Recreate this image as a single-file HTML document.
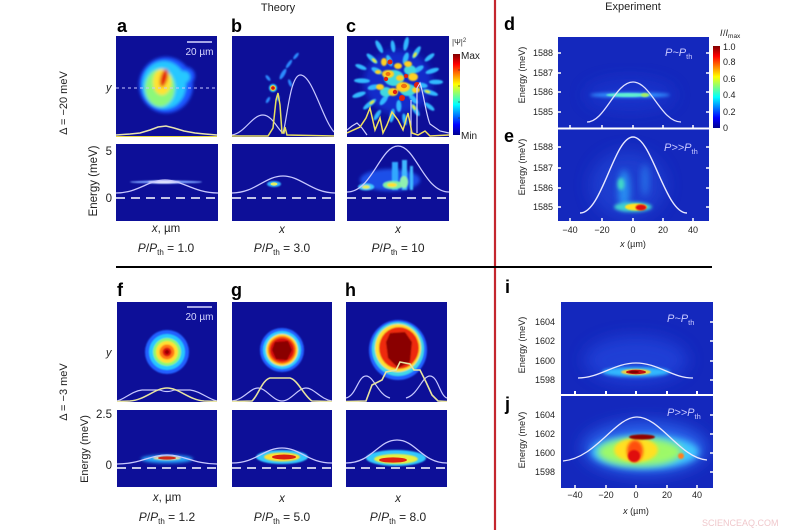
<!DOCTYPE html>
<html><head><meta charset="utf-8"><style>
html,body{margin:0;padding:0;background:#fff;}
svg{display:block;font-family:"Liberation Sans",sans-serif;}
</style></head><body>
<svg width="800" height="530" viewBox="0 0 800 530" xmlns="http://www.w3.org/2000/svg">
<defs>
<filter id="b1" x="-50%" y="-50%" width="200%" height="200%"><feGaussianBlur stdDeviation="0.8"/></filter>
<filter id="b2" x="-50%" y="-50%" width="200%" height="200%"><feGaussianBlur stdDeviation="1.6"/></filter>
<filter id="b4" x="-50%" y="-50%" width="200%" height="200%"><feGaussianBlur stdDeviation="3.5"/></filter>
<filter id="b8" x="-50%" y="-50%" width="200%" height="200%"><feGaussianBlur stdDeviation="8"/></filter>
<linearGradient id="jet" x1="0" y1="1" x2="0" y2="0">
<stop offset="0" stop-color="#00008f"/><stop offset="0.125" stop-color="#0000ff"/><stop offset="0.375" stop-color="#00ffff"/><stop offset="0.625" stop-color="#ffff00"/><stop offset="0.875" stop-color="#ff0000"/><stop offset="1" stop-color="#800000"/>
</linearGradient>
<clipPath id="ca"><rect x="116" y="36" width="101" height="101"/></clipPath>
<clipPath id="cab"><rect x="116" y="144" width="102" height="77"/></clipPath>
<clipPath id="cb"><rect x="232" y="36" width="102" height="101"/></clipPath>
<clipPath id="cbb"><rect x="232" y="144" width="103" height="77"/></clipPath>
<clipPath id="cc"><rect x="347" y="36" width="102" height="101"/></clipPath>
<clipPath id="ccb"><rect x="347" y="144" width="102" height="77"/></clipPath>
<clipPath id="cd"><rect x="558" y="37" width="151" height="91"/></clipPath>
<clipPath id="ce"><rect x="558" y="129" width="151" height="92"/></clipPath>
<clipPath id="cf"><rect x="117" y="302" width="100" height="100"/></clipPath>
<clipPath id="cfb"><rect x="117" y="410" width="100" height="77"/></clipPath>
<clipPath id="cg"><rect x="232" y="302" width="100" height="100"/></clipPath>
<clipPath id="cgb"><rect x="232" y="410" width="100" height="77"/></clipPath>
<clipPath id="ch"><rect x="346" y="302" width="101" height="100"/></clipPath>
<clipPath id="chb"><rect x="346" y="410" width="101" height="77"/></clipPath>
<clipPath id="ci"><rect x="561" y="302" width="152" height="92"/></clipPath>
<clipPath id="cj"><rect x="561" y="396" width="152" height="92"/></clipPath>
</defs>

<!-- ============ separators ============ -->
<line x1="495" y1="0" x2="495" y2="530" stroke="#c4262e" stroke-width="2.2"/>
<line x1="116" y1="267" x2="712" y2="267" stroke="#000" stroke-width="2"/>

<!-- ============ headers ============ -->
<text x="278" y="11" font-size="11" text-anchor="middle" fill="#222">Theory</text>
<text x="633" y="10" font-size="11" text-anchor="middle" fill="#222">Experiment</text>

<g font-size="18" font-weight="bold" fill="#000">
<text x="117" y="32">a</text>
<text x="231" y="32">b</text>
<text x="346" y="32">c</text>
<text x="504" y="30">d</text>
<text x="504" y="142">e</text>
<text x="117" y="296">f</text>
<text x="231" y="296">g</text>
<text x="345" y="296">h</text>
<text x="505" y="293">i</text>
<text x="505" y="410">j</text>
</g>

<!-- rotated labels left -->
<text transform="translate(67,103) rotate(-90)" font-size="11" text-anchor="middle" fill="#222">Δ = −20 meV</text>
<text transform="translate(67,392) rotate(-90)" font-size="11" text-anchor="middle" fill="#222">Δ = −3 meV</text>
<text transform="translate(97,181) rotate(-90)" font-size="11.5" text-anchor="middle" fill="#222">Energy (meV)</text>
<text transform="translate(88,449) rotate(-90)" font-size="11" text-anchor="middle" fill="#222">Energy (meV)</text>
<g font-size="11" fill="#222" font-style="italic">
<text x="106" y="91">y</text>
<text x="106" y="356">y</text>
</g>
<g font-size="11.5" fill="#222" text-anchor="end">
<text x="112" y="155">5</text>
<text x="112" y="202">0</text>
<text x="112" y="418">2.5</text>
<text x="112" y="469">0</text>
</g>

<!-- ============ PANEL a top ============ -->
<rect x="116" y="36" width="101" height="101" fill="#0d0f98"/>
<g clip-path="url(#ca)">
<g filter="url(#b2)">
<ellipse cx="166" cy="85" rx="27" ry="28" fill="#1f55ff"/>
<circle cx="186" cy="76" r="9" fill="#1f55ff"/>
<ellipse cx="164" cy="85" rx="22" ry="24" fill="#28c8ff"/>
<circle cx="184" cy="77" r="6" fill="#28c8ff"/>
<ellipse cx="160" cy="88" rx="15" ry="19" fill="#8cf87a"/>
<ellipse cx="162" cy="82" rx="9" ry="13" fill="#ffe230"/>
<ellipse cx="164" cy="78" rx="3.5" ry="9" fill="#e42010" transform="rotate(15 164 78)"/>
</g>
<line x1="116" y1="88" x2="217" y2="88" stroke="#c8c8ff" stroke-width="1" stroke-dasharray="3 3"/>
<path d="M116,135 L130,134 L140,133 L150,130 L158,127 L166,126 L174,128 L184,131 L195,133 L205,134 L217,135" fill="none" stroke="#e8e4b0" stroke-width="1.5"/>
<line x1="116" y1="136.5" x2="217" y2="136.5" stroke="#e8d840" stroke-width="1"/>
<line x1="187" y1="42" x2="212" y2="42" stroke="#d8d8ff" stroke-width="1.5"/>
<text x="199.5" y="55" font-size="10" text-anchor="middle" fill="#d8d8ff">20 µm</text>
</g>

<!-- ============ PANEL a bottom ============ -->
<rect x="116" y="144" width="102" height="77" fill="#0d0f98"/>
<g clip-path="url(#cab)">
<ellipse cx="166" cy="182" rx="36" ry="1.5" fill="#7aa0ff" filter="url(#b1)"/>
<ellipse cx="164" cy="182" rx="16" ry="1.5" fill="#e8e8ff" filter="url(#b1)"/>
<path d="M116,193 C138,193 148,180 165,180 C182,180 194,193 218,193" fill="none" stroke="#c8c8ff" stroke-width="1.3"/>
<line x1="116" y1="198" x2="218" y2="198" stroke="#fff" stroke-width="1.5" stroke-dasharray="9 6"/>
</g>

<!-- ============ PANEL b top ============ -->
<rect x="232" y="36" width="102" height="101" fill="#0d0f98"/>
<g clip-path="url(#cb)">
<g filter="url(#b1)" fill="#2a8cff">
<ellipse cx="283" cy="74" rx="2" ry="6" transform="rotate(30 283 74)"/>
<ellipse cx="289" cy="64" rx="1.6" ry="5" transform="rotate(35 289 64)"/>
<ellipse cx="296" cy="56" rx="1.5" ry="4" transform="rotate(40 296 56)"/>
<ellipse cx="290" cy="83" rx="1.5" ry="4" transform="rotate(-20 290 83)"/>
<ellipse cx="268" cy="78" rx="1.5" ry="3.5" transform="rotate(-40 268 78)"/>
<ellipse cx="268" cy="100" rx="1.5" ry="3.5" transform="rotate(30 268 100)"/>
<ellipse cx="278" cy="98" rx="1.5" ry="3" />
</g>
<circle cx="273" cy="88" r="4" fill="#30d0ff" filter="url(#b1)"/>
<circle cx="273" cy="88" r="2.8" fill="#ffd020"/>
<circle cx="273" cy="88" r="1.8" fill="#d01010"/>
<path d="M232,135 C245,133 252,115 263,115 C272,115 278,130 283,133 C287,120 290,76 300,75 C312,74 322,118 334,132" fill="none" stroke="#c8c8ff" stroke-width="1.2"/>
<path d="M232,136 L268,136 L273,128 L276,100 L278,93 L280,105 L282,133 L284,133 L285,127 L287,135 L334,136" fill="none" stroke="#e8e060" stroke-width="1.5"/>
</g>

<!-- ============ PANEL b bottom ============ -->
<rect x="232" y="144" width="103" height="77" fill="#0d0f98"/>
<g clip-path="url(#cbb)">
<ellipse cx="274" cy="184" rx="7" ry="3" fill="#30b0ff" filter="url(#b1)"/>
<ellipse cx="274" cy="184" rx="3.5" ry="1.6" fill="#e8f060"/>
<path d="M232,193 C255,193 265,176 283,176 C301,176 312,193 335,193" fill="none" stroke="#c8c8ff" stroke-width="1.3"/>
<line x1="232" y1="198" x2="335" y2="198" stroke="#fff" stroke-width="1.5" stroke-dasharray="9 6"/>
</g>

<!-- ============ PANEL c top ============ -->
<rect x="347" y="36" width="102" height="101" fill="#0d0f98"/>
<g clip-path="url(#cc)">
<ellipse cx="398" cy="82" rx="34" ry="32" fill="#1838e0" filter="url(#b4)" opacity="0.7"/>
<g transform="translate(398,82)">
<g fill="#30b8ff" filter="url(#b1)">
<ellipse transform="rotate(0)" cx="38" cy="0" rx="7" ry="2.4"/>
<ellipse transform="rotate(18)" cx="34" cy="0" rx="8" ry="2.4"/>
<ellipse transform="rotate(38)" cx="40" cy="0" rx="6" ry="2.2"/>
<ellipse transform="rotate(58)" cx="33" cy="0" rx="7" ry="2.4"/>
<ellipse transform="rotate(80)" cx="38" cy="0" rx="6" ry="2.2"/>
<ellipse transform="rotate(100)" cx="34" cy="0" rx="7" ry="2.4"/>
<ellipse transform="rotate(122)" cx="39" cy="0" rx="6" ry="2.2"/>
<ellipse transform="rotate(142)" cx="36" cy="0" rx="8" ry="2.4"/>
<ellipse transform="rotate(162)" cx="41" cy="0" rx="7" ry="2.4"/>
<ellipse transform="rotate(182)" cx="36" cy="0" rx="8" ry="2.4"/>
<ellipse transform="rotate(202)" cx="40" cy="0" rx="6" ry="2.2"/>
<ellipse transform="rotate(222)" cx="35" cy="0" rx="7" ry="2.4"/>
<ellipse transform="rotate(242)" cx="40" cy="0" rx="7" ry="2.4"/>
<ellipse transform="rotate(262)" cx="36" cy="0" rx="6" ry="2.2"/>
<ellipse transform="rotate(282)" cx="39" cy="0" rx="7" ry="2.4"/>
<ellipse transform="rotate(302)" cx="35" cy="0" rx="7" ry="2.4"/>
<ellipse transform="rotate(322)" cx="40" cy="0" rx="6" ry="2.2"/>
<ellipse transform="rotate(342)" cx="36" cy="0" rx="7" ry="2.4"/>
<ellipse transform="rotate(8)" cx="24" cy="0" rx="6" ry="2.6"/>
<ellipse transform="rotate(48)" cx="23" cy="0" rx="6" ry="2.6"/>
<ellipse transform="rotate(88)" cx="24" cy="0" rx="6" ry="2.6"/>
<ellipse transform="rotate(128)" cx="23" cy="0" rx="6" ry="2.6"/>
<ellipse transform="rotate(168)" cx="25" cy="0" rx="6" ry="2.6"/>
<ellipse transform="rotate(208)" cx="24" cy="0" rx="6" ry="2.6"/>
<ellipse transform="rotate(248)" cx="23" cy="0" rx="6" ry="2.6"/>
<ellipse transform="rotate(288)" cx="25" cy="0" rx="6" ry="2.6"/>
<ellipse transform="rotate(328)" cx="24" cy="0" rx="6" ry="2.6"/>
</g>
<g fill="#e8e840" filter="url(#b1)">
<ellipse transform="rotate(18)" cx="31" cy="0" rx="3" ry="1.4"/>
<ellipse transform="rotate(142)" cx="33" cy="0" rx="3" ry="1.4"/>
<ellipse transform="rotate(222)" cx="32" cy="0" rx="3" ry="1.4"/>
<ellipse transform="rotate(302)" cx="32" cy="0" rx="3" ry="1.4"/>
<ellipse transform="rotate(58)" cx="30" cy="0" rx="3" ry="1.4"/>
</g>
<g fill="#40d8e0" filter="url(#b1)">
<ellipse cx="-4" cy="-4" rx="10" ry="8"/>
<ellipse cx="10" cy="8" rx="8" ry="6"/>
<ellipse cx="-12" cy="10" rx="6" ry="5"/>
<ellipse cx="12" cy="-12" rx="6" ry="5"/>
</g>
<g fill="#ffd020" filter="url(#b1)">
<ellipse cx="-10" cy="-8" rx="6" ry="4"/>
<ellipse cx="5" cy="5" rx="7" ry="5"/>
<ellipse cx="-5" cy="10" rx="5" ry="4"/>
<ellipse cx="15" cy="-5" rx="5" ry="4"/>
<ellipse cx="-18" cy="5" rx="4" ry="3"/>
<ellipse cx="10" cy="-18" rx="4" ry="3"/>
<ellipse cx="0" cy="-16" rx="4" ry="3"/>
<ellipse cx="18" cy="8" rx="4" ry="3"/>
<ellipse cx="-14" cy="-20" rx="3" ry="4"/>
<ellipse cx="2" cy="-4" rx="4" ry="3"/>
<ellipse cx="-20" cy="-10" rx="3" ry="2"/>
</g>
<g fill="#f07010">
<ellipse cx="-10" cy="-8" rx="2.5" ry="2"/>
<ellipse cx="6" cy="4" rx="3" ry="2.2"/>
</g>
<g fill="#e02010">
<circle cx="19" cy="3" r="3"/>
<circle cx="-8" cy="-20" r="2.5"/>
<circle cx="4" cy="16" r="3"/>
<circle cx="-3" cy="10" r="2.2"/>
<circle cx="-12" cy="-3" r="2.2"/>
<circle cx="8" cy="-6" r="2"/>
</g>
</g>
<path d="M347,130 L352,126 L357,123 L362,128 L367,135 M411,137 L411,100 M417,133 L417,88 L420,83 C424,95 426,115 430,124 L440,131 L449,133" fill="none" stroke="#d0d0ff" stroke-width="1.2"/>
<path d="M347,133 L360,127 L366,118 L370,108 L375,130 L380,118 L383,133 L387,125 L392,112 L398,120 L403,130 L408,113 L412,133 L418,135 L425,131 L430,136 L449,135" fill="none" stroke="#f0e060" stroke-width="1.5"/>
</g>

<!-- ============ PANEL c bottom ============ -->
<rect x="347" y="144" width="102" height="77" fill="#0d0f98"/>
<g clip-path="url(#ccb)">
<g filter="url(#b1)">
<ellipse cx="390" cy="180" rx="30" ry="11" fill="#1e50e8" filter="url(#b2)"/>
<rect x="392" y="162" width="6" height="28" fill="#30a8ff"/>
<rect x="402" y="160" width="5" height="30" fill="#40b8ff"/>
<rect x="410" y="166" width="3" height="24" fill="#40b8ff"/>
<ellipse cx="366" cy="187" rx="8" ry="3.5" fill="#40c8ff"/>
<ellipse cx="366" cy="187" rx="4" ry="1.8" fill="#e8f050"/>
<ellipse cx="393" cy="185" rx="10" ry="4" fill="#80f0a0"/>
<ellipse cx="392" cy="185" rx="5" ry="2" fill="#ffe030"/>
<ellipse cx="404" cy="182" rx="4" ry="6" fill="#90f0b0"/>
</g>
<path d="M347,192 C372,192 380,146 398,146 C416,146 424,192 449,192" fill="none" stroke="#c8c8ff" stroke-width="1.3"/>
<line x1="347" y1="198" x2="449" y2="198" stroke="#fff" stroke-width="1.5" stroke-dasharray="9 6"/>
</g>

<!-- theory x labels -->
<g font-size="11.5" fill="#222" text-anchor="middle">
<text x="166" y="232"><tspan font-style="italic">x</tspan>, µm</text>
<text x="282" y="233" font-style="italic">x</text>
<text x="398" y="233" font-style="italic">x</text>
<text x="167" y="501"><tspan font-style="italic">x</tspan>, µm</text>
<text x="282" y="502" font-style="italic">x</text>
<text x="398" y="502" font-style="italic">x</text>
</g>
<g font-size="12" fill="#222" text-anchor="middle">
<text x="166" y="252"><tspan font-style="italic">P</tspan>/<tspan font-style="italic">P</tspan><tspan font-size="8" dy="3">th</tspan><tspan dy="-3"> = 1.0</tspan></text>
<text x="282" y="252"><tspan font-style="italic">P</tspan>/<tspan font-style="italic">P</tspan><tspan font-size="8" dy="3">th</tspan><tspan dy="-3"> = 3.0</tspan></text>
<text x="398" y="252"><tspan font-style="italic">P</tspan>/<tspan font-style="italic">P</tspan><tspan font-size="8" dy="3">th</tspan><tspan dy="-3"> = 10</tspan></text>
<text x="167" y="521"><tspan font-style="italic">P</tspan>/<tspan font-style="italic">P</tspan><tspan font-size="8" dy="3">th</tspan><tspan dy="-3"> = 1.2</tspan></text>
<text x="282" y="521"><tspan font-style="italic">P</tspan>/<tspan font-style="italic">P</tspan><tspan font-size="8" dy="3">th</tspan><tspan dy="-3"> = 5.0</tspan></text>
<text x="398" y="521"><tspan font-style="italic">P</tspan>/<tspan font-style="italic">P</tspan><tspan font-size="8" dy="3">th</tspan><tspan dy="-3"> = 8.0</tspan></text>
</g>

<!-- theory colorbar -->
<rect x="453" y="54" width="7" height="81" fill="url(#jet)"/>
<g stroke="#333" stroke-width="0.6">
<line x1="458" y1="70" x2="460" y2="70"/><line x1="458" y1="86" x2="460" y2="86"/><line x1="458" y1="102" x2="460" y2="102"/><line x1="458" y1="118" x2="460" y2="118"/>
</g>
<text x="452" y="45" font-size="8" fill="#333">|Ψ|<tspan font-size="6" dy="-3">2</tspan></text>
<text x="461" y="59" font-size="10" fill="#222">Max</text>
<text x="461" y="139" font-size="10" fill="#222">Min</text>

<!-- ============ PANEL f ============ -->
<rect x="117" y="302" width="100" height="100" fill="#0d0f98"/>
<g clip-path="url(#cf)">
<g filter="url(#b1)">
<circle cx="167" cy="352" r="22" fill="#2060ff"/>
<circle cx="167" cy="352" r="18" fill="#28c8ff"/>
<circle cx="167" cy="352" r="14" fill="#90f870"/>
<circle cx="167" cy="352" r="11" fill="#ffe030"/>
<circle cx="167" cy="352" r="7.5" fill="#ff7818"/>
<circle cx="167" cy="352" r="4.5" fill="#d81010"/>
<circle cx="167" cy="352" r="2" fill="#900000"/>
</g>
<path d="M117,401 C125,399 132,391 142,390 L160,390 C164,392 170,392 174,390 L190,390 C200,391 208,399 217,401" fill="none" stroke="#c8c8ff" stroke-width="1.2"/>
<path d="M117,401.5 L130,401 C145,400 155,388 167,388 C179,388 189,400 204,401 L217,401.5" fill="none" stroke="#e8e4a0" stroke-width="1.5"/>
<line x1="187" y1="307" x2="212" y2="307" stroke="#d8d8ff" stroke-width="1.5"/>
<text x="199.5" y="320" font-size="10" text-anchor="middle" fill="#d8d8ff">20 µm</text>
</g>
<rect x="117" y="410" width="100" height="77" fill="#0d0f98"/>
<g clip-path="url(#cfb)">
<ellipse cx="167" cy="459" rx="26" ry="4" fill="#28a8ff" filter="url(#b2)"/>
<ellipse cx="167" cy="458" rx="14" ry="2.2" fill="#e8e0a0" filter="url(#b1)"/>
<ellipse cx="167" cy="458" rx="9" ry="1.6" fill="#d02818"/>
<path d="M117,464 C140,464 150,455 167,455 C184,455 194,464 217,464" fill="none" stroke="#c8c8ff" stroke-width="1.3"/>
<line x1="117" y1="468" x2="217" y2="468" stroke="#fff" stroke-width="1.5" stroke-dasharray="9 6"/>
</g>

<!-- ============ PANEL g ============ -->
<rect x="232" y="302" width="100" height="100" fill="#0d0f98"/>
<g clip-path="url(#cg)">
<g filter="url(#b1)">
<circle cx="282" cy="350" r="22" fill="#2060ff"/>
<circle cx="282" cy="350" r="19" fill="#30d0ff"/>
<circle cx="282" cy="350" r="16" fill="#ffe030"/>
<circle cx="282" cy="350" r="14" fill="#ff6010"/>
<circle cx="282" cy="350" r="12" fill="#d81010"/>
<path d="M275,342 L288,341 L292,350 L287,360 L276,359 L272,350 Z" fill="#8a0000"/>
</g>
<path d="M232,401 C245,399 250,388 258,388 C266,388 273,401 282,401 C291,401 298,388 306,388 C314,388 320,399 332,401" fill="none" stroke="#c8c8ff" stroke-width="1.2"/>
<path d="M232,401.5 L252,401 C258,396 262,380 270,378 L290,378 C298,380 304,396 312,401 L332,401.5" fill="none" stroke="#e8e4a0" stroke-width="1.6"/>
</g>
<rect x="232" y="410" width="100" height="77" fill="#0d0f98"/>
<g clip-path="url(#cgb)">
<ellipse cx="282" cy="457" rx="26" ry="7" fill="#30c8ff" filter="url(#b1)"/>
<ellipse cx="282" cy="457" rx="18" ry="4.5" fill="#ffe030" filter="url(#b1)"/>
<ellipse cx="284" cy="457" rx="12" ry="2.5" fill="#d82010"/>
<path d="M232,463 C256,463 264,448 282,448 C300,448 308,463 332,463" fill="none" stroke="#c8c8ff" stroke-width="1.3"/>
<line x1="232" y1="468" x2="332" y2="468" stroke="#fff" stroke-width="1.5" stroke-dasharray="9 6"/>
</g>

<!-- ============ PANEL h ============ -->
<rect x="346" y="302" width="101" height="100" fill="#0d0f98"/>
<g clip-path="url(#ch)">
<g filter="url(#b1)">
<ellipse cx="398" cy="350" rx="29" ry="30" fill="#2060ff"/>
<ellipse cx="398" cy="349" rx="26" ry="27" fill="#40d8e8"/>
<ellipse cx="398" cy="348" rx="23" ry="24" fill="#ffe030"/>
<ellipse cx="399" cy="348" rx="20" ry="21" fill="#ee2a10"/>
<path d="M390,333 L405,332 L412,342 L410,362 L398,368 L388,358 L386,342 Z" fill="#8a0000"/>
</g>
<path d="M346,398 C356,396 358,376 366,376 C374,376 378,395 390,398 M406,398 C418,395 422,376 430,376 C438,376 440,396 447,398" fill="none" stroke="#c8c8ff" stroke-width="1.2"/>
<path d="M346,401.5 L366,401 L372,385 L382,380 L386,372 L396,370 L400,362 L410,364 L414,370 L420,370 L426,382 L432,395 L438,401 L447,401.5" fill="none" stroke="#e8e4a0" stroke-width="1.6"/>
</g>
<rect x="346" y="410" width="101" height="77" fill="#0d0f98"/>
<g clip-path="url(#chb)">
<ellipse cx="396" cy="458" rx="30" ry="8" fill="#30c8ff" filter="url(#b1)"/>
<ellipse cx="396" cy="459" rx="22" ry="5" fill="#e8f040" filter="url(#b1)"/>
<ellipse cx="393" cy="460" rx="14" ry="2.6" fill="#e02010"/>
<path d="M346,463 C372,463 378,440 397,440 C416,440 422,463 447,463" fill="none" stroke="#c8c8ff" stroke-width="1.3"/>
<line x1="346" y1="468" x2="447" y2="468" stroke="#fff" stroke-width="1.5" stroke-dasharray="9 6"/>
</g>

<!-- ============ PANEL d ============ -->
<rect x="558" y="37" width="151" height="91" fill="#1428bd"/>
<g clip-path="url(#cd)">
<ellipse cx="630" cy="95" rx="45" ry="16" fill="#1e3ad4" filter="url(#b8)" opacity="0.6"/>
<ellipse cx="630" cy="95" rx="40" ry="2.6" fill="#3090ff" filter="url(#b2)"/>
<ellipse cx="628" cy="95" rx="22" ry="2" fill="#60f0d0" filter="url(#b1)"/>
<ellipse cx="645" cy="95" rx="4" ry="2" fill="#a8f060" filter="url(#b1)"/>
<path d="M587,122 C605,122 615,82 633,82 C651,82 661,122 681,122" fill="none" stroke="#e0e0ff" stroke-width="1.3"/>
<text x="665" y="56" font-size="11" font-style="italic" fill="#c8c8ff">P~P<tspan font-size="7.5" dy="3" font-style="normal">th</tspan></text>
</g>
<g stroke="#fff" stroke-width="1.5">
<line x1="558" y1="53" x2="561" y2="53"/><line x1="558" y1="73" x2="561" y2="73"/><line x1="558" y1="92" x2="561" y2="92"/><line x1="558" y1="112" x2="561" y2="112"/>
<line x1="706" y1="53" x2="709" y2="53"/><line x1="706" y1="73" x2="709" y2="73"/><line x1="706" y1="92" x2="709" y2="92"/><line x1="706" y1="112" x2="709" y2="112"/>
</g>
<!-- separator d/e -->
<rect x="558" y="127.5" width="151" height="2" fill="#fff"/>
<g stroke="#fff" stroke-width="1.5">
<line x1="570" y1="125" x2="570" y2="132"/><line x1="602" y1="125" x2="602" y2="132"/><line x1="633" y1="125" x2="633" y2="132"/><line x1="663" y1="125" x2="663" y2="132"/><line x1="693" y1="125" x2="693" y2="132"/>
</g>

<!-- ============ PANEL e ============ -->
<rect x="558" y="129.5" width="151" height="91.5" fill="#1428bd"/>
<g clip-path="url(#ce)">
<ellipse cx="628" cy="185" rx="38" ry="34" fill="#2046d8" filter="url(#b8)" opacity="0.7"/>
<ellipse cx="624" cy="190" rx="6" ry="20" fill="#2c9cf8" filter="url(#b4)" opacity="0.85"/>
<ellipse cx="645" cy="180" rx="4" ry="16" fill="#2a80f0" filter="url(#b4)" opacity="0.7"/>
<ellipse cx="621" cy="184" rx="3.5" ry="6" fill="#40d8c8" filter="url(#b2)"/>
<ellipse cx="633" cy="207" rx="19" ry="5" fill="#40d0d0" filter="url(#b2)"/>
<ellipse cx="636" cy="207" rx="11" ry="3.5" fill="#ffe020" filter="url(#b1)"/>
<ellipse cx="641" cy="207.5" rx="5.5" ry="3" fill="#e01010" filter="url(#b1)"/>
<path d="M580,213 C602,213 614,137 633,137 C652,137 665,213 687,213" fill="none" stroke="#e8e8ff" stroke-width="1.4"/>
<text x="664" y="151" font-size="11" font-style="italic" fill="#c8c8ff">P&gt;&gt;P<tspan font-size="7.5" dy="3" font-style="normal">th</tspan></text>
</g>
<g stroke="#fff" stroke-width="1.5">
<line x1="558" y1="147" x2="561" y2="147"/><line x1="558" y1="168" x2="561" y2="168"/><line x1="558" y1="188" x2="561" y2="188"/><line x1="558" y1="207" x2="561" y2="207"/>
<line x1="706" y1="147" x2="709" y2="147"/><line x1="706" y1="168" x2="709" y2="168"/><line x1="706" y1="188" x2="709" y2="188"/><line x1="706" y1="207" x2="709" y2="207"/>
<line x1="570" y1="218" x2="570" y2="221"/><line x1="602" y1="218" x2="602" y2="221"/><line x1="633" y1="218" x2="633" y2="221"/><line x1="663" y1="218" x2="663" y2="221"/><line x1="693" y1="218" x2="693" y2="221"/>
</g>

<!-- d/e tick labels -->
<g font-size="9" fill="#222" text-anchor="end">
<text x="553" y="56">1588</text><text x="553" y="76">1587</text><text x="553" y="95">1586</text><text x="553" y="115">1585</text>
<text x="553" y="150">1588</text><text x="553" y="171">1587</text><text x="553" y="191">1586</text><text x="553" y="210">1585</text>
</g>
<g font-size="9" fill="#222" text-anchor="middle">
<text x="570" y="233">−40</text><text x="602" y="233">−20</text><text x="633" y="233">0</text><text x="663" y="233">20</text><text x="693" y="233">40</text>
<text x="633" y="247"><tspan font-style="italic">x</tspan> (µm)</text>
</g>
<text transform="translate(525,75) rotate(-90)" font-size="9.2" text-anchor="middle" fill="#222">Energy (meV)</text>
<text transform="translate(525,167) rotate(-90)" font-size="9.2" text-anchor="middle" fill="#222">Energy (meV)</text>

<!-- exp colorbar -->
<rect x="713" y="46" width="7" height="82" fill="url(#jet)"/>
<text x="720" y="36" font-size="9" fill="#222" font-style="italic">I</text><text x="723" y="36" font-size="9" fill="#222">/<tspan font-style="italic">I</tspan><tspan font-size="6.5" dy="2">max</tspan></text>
<g font-size="9" fill="#222">
<text x="723" y="50">1.0</text><text x="723" y="65">0.8</text><text x="723" y="82">0.6</text><text x="723" y="98">0.4</text><text x="723" y="115">0.2</text><text x="723" y="131">0</text>
</g>

<!-- ============ PANEL i ============ -->
<rect x="561" y="302" width="152" height="92" fill="#1428bd"/>
<g clip-path="url(#ci)">
<ellipse cx="636" cy="360" rx="52" ry="24" fill="#2244dc" filter="url(#b8)" opacity="0.8"/>
<ellipse cx="636" cy="372" rx="34" ry="5" fill="#30b8ff" filter="url(#b2)"/>
<ellipse cx="636" cy="372" rx="15" ry="3" fill="#f0d040" filter="url(#b1)"/>
<ellipse cx="636" cy="372" rx="10" ry="2.2" fill="#c01010"/>
<ellipse cx="634" cy="372" rx="5" ry="1.3" fill="#800000"/>
<path d="M578,378 C600,378 614,363 636,363 C658,363 672,378 693,378" fill="none" stroke="#e8e8ff" stroke-width="1.3"/>
<text x="667" y="322" font-size="11" font-style="italic" fill="#c8c8ff">P~P<tspan font-size="7.5" dy="3" font-style="normal">th</tspan></text>
</g>
<g stroke="#fff" stroke-width="1.5">
<line x1="710" y1="322" x2="713" y2="322"/><line x1="710" y1="341" x2="713" y2="341"/><line x1="710" y1="361" x2="713" y2="361"/><line x1="710" y1="380" x2="713" y2="380"/>
</g>
<rect x="561" y="394" width="152" height="2" fill="#fff"/>
<g stroke="#fff" stroke-width="2">
<line x1="575" y1="391" x2="575" y2="399"/><line x1="606" y1="391" x2="606" y2="399"/><line x1="636" y1="391" x2="636" y2="399"/><line x1="667" y1="391" x2="667" y2="399"/><line x1="697" y1="391" x2="697" y2="399"/>
</g>

<!-- ============ PANEL j ============ -->
<rect x="561" y="396" width="152" height="92" fill="#1428bd"/>
<g clip-path="url(#cj)">
<ellipse cx="645" cy="448" rx="62" ry="26" fill="#2a64ec" filter="url(#b8)"/>
<ellipse cx="645" cy="452" rx="54" ry="17" fill="#40c8ff" filter="url(#b4)"/>
<ellipse cx="640" cy="452" rx="42" ry="14" fill="#a8ff58" filter="url(#b4)" opacity="0.9"/>
<ellipse cx="636" cy="450" rx="22" ry="12" fill="#ffe020" filter="url(#b2)"/>
<ellipse cx="635" cy="451" rx="8" ry="11" fill="#ff5010" filter="url(#b2)"/>
<ellipse cx="634" cy="456" rx="6" ry="6" fill="#e01010" filter="url(#b1)"/>
<ellipse cx="642" cy="437" rx="13" ry="2.6" fill="#900000" filter="url(#b1)"/>
<circle cx="681" cy="456" r="3" fill="#ff8020" filter="url(#b1)"/>
<path d="M563,461 C596,458 615,417 637,417 C660,417 680,458 707,460" fill="none" stroke="#e8e8ff" stroke-width="1.3"/>
<text x="667" y="416" font-size="11" font-style="italic" fill="#c8c8ff">P&gt;&gt;P<tspan font-size="7.5" dy="3" font-style="normal">th</tspan></text>
</g>
<g stroke="#fff" stroke-width="1.5">
<line x1="710" y1="415" x2="713" y2="415"/><line x1="710" y1="434" x2="713" y2="434"/><line x1="710" y1="453" x2="713" y2="453"/><line x1="710" y1="472" x2="713" y2="472"/>
<line x1="575" y1="485" x2="575" y2="488"/><line x1="606" y1="485" x2="606" y2="488"/><line x1="636" y1="485" x2="636" y2="488"/><line x1="667" y1="485" x2="667" y2="488"/><line x1="697" y1="485" x2="697" y2="488"/>
</g>

<g font-size="9" fill="#222" text-anchor="end">
<text x="555" y="325">1604</text><text x="555" y="344">1602</text><text x="555" y="364">1600</text><text x="555" y="383">1598</text>
<text x="555" y="418">1604</text><text x="555" y="437">1602</text><text x="555" y="456">1600</text><text x="555" y="475">1598</text>
</g>
<g font-size="9" fill="#222" text-anchor="middle">
<text x="575" y="498">−40</text><text x="606" y="498">−20</text><text x="636" y="498">0</text><text x="667" y="498">20</text><text x="697" y="498">40</text>
<text x="636" y="514"><tspan font-style="italic">x</tspan> (µm)</text>
</g>
<text transform="translate(525,345) rotate(-90)" font-size="9.2" text-anchor="middle" fill="#222">Energy (meV)</text>
<text transform="translate(525,440) rotate(-90)" font-size="9.2" text-anchor="middle" fill="#222">Energy (meV)</text>

<text x="702" y="526" font-size="9" fill="#f0c8cc">SCIENCEAQ.COM</text>
</svg>
</body></html>
